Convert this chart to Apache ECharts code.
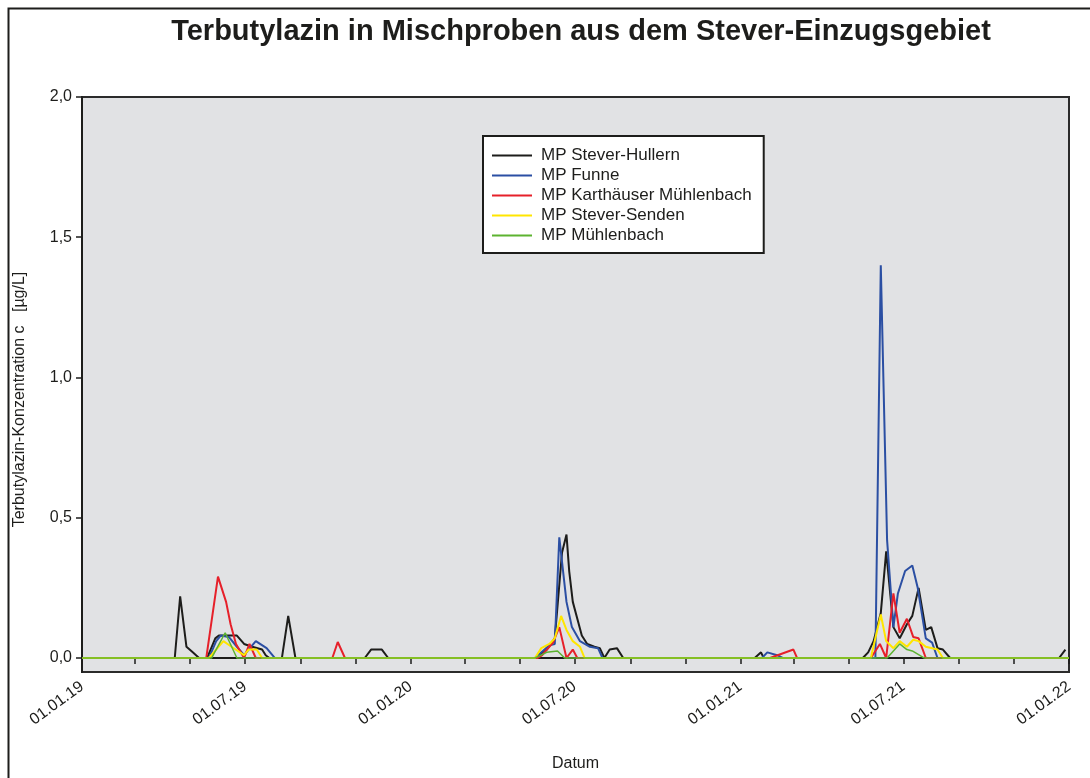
<!DOCTYPE html>
<html>
<head>
<meta charset="utf-8">
<title>Terbutylazin</title>
<script src="https://cdn.jsdelivr.net/npm/echarts@6/dist/echarts.min.js"></script>
<style>
  html, body { margin: 0; padding: 0; background: #fff; }
  #chart { width: 1090px; height: 778px; }
</style>
</head>
<body>
<div id="chart"></div>
<script>
  // tick positions on the date axis
  const labelDates = ['2019-01-01', '2019-07-01', '2020-01-01', '2020-07-01', '2021-01-01', '2021-07-01', '2022-01-01']
  const tickDates = ['2019-01-01', '2019-03-01', '2019-05-01', '2019-07-01', '2019-09-01', '2019-11-01',
    '2020-01-01', '2020-03-01', '2020-05-01', '2020-07-01', '2020-09-01', '2020-11-01',
    '2021-01-01', '2021-03-01', '2021-05-01', '2021-07-01', '2021-09-01', '2021-11-01', '2022-01-01']
  const yTicks = [0, 0.5, 1, 1.5, 2]

  const names = ['MP Stever-Hullern', 'MP Funne', 'MP Karthäuser Mühlenbach', 'MP Stever-Senden', 'MP Mühlenbach']

  // [Datum, c in µg/L]
  const hullern = [
    ['2019-01-01', 0], ['2019-04-14', 0], ['2019-04-20', 0.22], ['2019-04-27', 0.04], ['2019-05-04', 0.02],
    ['2019-05-11', 0], ['2019-05-20', 0], ['2019-05-29', 0.07], ['2019-06-02', 0.08], ['2019-06-22', 0.08],
    ['2019-06-30', 0.05], ['2019-07-09', 0.04], ['2019-07-20', 0.03], ['2019-07-24', 0.01], ['2019-07-28', 0],
    ['2019-08-11', 0], ['2019-08-18', 0.15], ['2019-08-26', 0], ['2019-11-11', 0], ['2019-11-18', 0.03],
    ['2019-11-30', 0.03], ['2019-12-07', 0], ['2020-05-20', 0], ['2020-05-31', 0.03], ['2020-06-09', 0.07],
    ['2020-06-17', 0.375], ['2020-06-22', 0.44], ['2020-06-25', 0.31], ['2020-06-29', 0.2], ['2020-07-09', 0.08],
    ['2020-07-15', 0.05], ['2020-07-23', 0.04], ['2020-07-29', 0.035], ['2020-08-03', 0], ['2020-08-09', 0.03],
    ['2020-08-17', 0.035], ['2020-08-24', 0], ['2021-01-17', 0], ['2021-01-24', 0.02], ['2021-01-27', 0],
    ['2021-05-17', 0], ['2021-05-23', 0.02], ['2021-05-29', 0.06], ['2021-06-06', 0.16], ['2021-06-12', 0.38],
    ['2021-06-20', 0.11], ['2021-06-27', 0.07], ['2021-07-05', 0.12], ['2021-07-11', 0.15], ['2021-07-18', 0.25],
    ['2021-07-26', 0.1], ['2021-08-01', 0.11], ['2021-08-08', 0.035], ['2021-08-14', 0.03], ['2021-08-22', 0],
    ['2021-12-21', 0], ['2021-12-28', 0.03]
  ]
  const funne = [
    ['2019-01-01', 0], ['2019-05-22', 0], ['2019-05-30', 0.06], ['2019-06-04', 0.08], ['2019-06-13', 0.075],
    ['2019-06-22', 0.04], ['2019-06-30', 0.01], ['2019-07-05', 0.03], ['2019-07-13', 0.06], ['2019-07-25', 0.035],
    ['2019-08-03', 0], ['2020-05-18', 0], ['2020-06-03', 0.045], ['2020-06-09', 0.05], ['2020-06-14', 0.43],
    ['2020-06-22', 0.2], ['2020-06-28', 0.11], ['2020-07-07', 0.06], ['2020-07-18', 0.04], ['2020-07-27', 0.035],
    ['2020-08-01', 0], ['2021-01-25', 0], ['2021-01-31', 0.02], ['2021-02-11', 0.01], ['2021-02-17', 0],
    ['2021-05-31', 0], ['2021-06-06', 1.4], ['2021-06-13', 0.42], ['2021-06-20', 0.11], ['2021-06-25', 0.23],
    ['2021-07-03', 0.31], ['2021-07-11', 0.33], ['2021-07-17', 0.25], ['2021-07-26', 0.07], ['2021-08-02', 0.055],
    ['2021-08-08', 0], ['2022-01-01', 0]
  ]
  const karthaeuser = [
    ['2019-01-01', 0], ['2019-05-19', 0], ['2019-06-01', 0.29], ['2019-06-10', 0.2], ['2019-06-15', 0.12],
    ['2019-06-21', 0.05], ['2019-06-30', 0], ['2019-07-06', 0.05], ['2019-07-13', 0], ['2019-10-06', 0],
    ['2019-10-12', 0.057], ['2019-10-20', 0], ['2020-05-21', 0], ['2020-05-26', 0.01], ['2020-06-07', 0.055],
    ['2020-06-14', 0.11], ['2020-06-22', 0], ['2020-06-29', 0.03], ['2020-07-04', 0], ['2021-02-03', 0],
    ['2021-03-01', 0.03], ['2021-03-05', 0], ['2021-05-26', 0], ['2021-06-05', 0.05], ['2021-06-12', 0],
    ['2021-06-20', 0.23], ['2021-06-27', 0.09], ['2021-07-05', 0.14], ['2021-07-12', 0.075], ['2021-07-18', 0.07],
    ['2021-07-26', 0], ['2022-01-01', 0]
  ]
  const senden = [
    ['2019-01-01', 0], ['2019-05-22', 0], ['2019-06-07', 0.06], ['2019-06-16', 0.04], ['2019-06-30', 0.01],
    ['2019-07-05', 0.03], ['2019-07-14', 0.03], ['2019-07-20', 0], ['2020-05-18', 0], ['2020-05-25', 0.035],
    ['2020-06-03', 0.05], ['2020-06-09', 0.07], ['2020-06-16', 0.15], ['2020-06-22', 0.1], ['2020-06-29', 0.06],
    ['2020-07-07', 0.04], ['2020-07-12', 0], ['2021-05-26', 0], ['2021-06-06', 0.155], ['2021-06-12', 0.06],
    ['2021-06-20', 0.035], ['2021-06-27', 0.06], ['2021-07-05', 0.04], ['2021-07-12', 0.065], ['2021-07-18', 0.06],
    ['2021-07-26', 0.04], ['2021-08-08', 0.03], ['2021-08-14', 0], ['2022-01-01', 0]
  ]
  const muehlenbach = [
    ['2019-01-01', 0], ['2019-05-25', 0], ['2019-06-09', 0.09], ['2019-06-22', 0], ['2020-05-18', 0],
    ['2020-05-31', 0.02], ['2020-06-12', 0.025], ['2020-06-20', 0], ['2021-06-13', 0], ['2021-06-27', 0.05],
    ['2021-07-05', 0.03], ['2021-07-11', 0.025], ['2021-07-24', 0], ['2022-01-01', 0]
  ]

  const colors = ['#1d1d1b', '#2b4fa3', '#e6202a', '#ffe600', '#5db330']
  const widths = [2, 2, 2, 2, 1.5]

  const ts = s => new Date(s).getTime()
  const pad = n => (n < 10 ? '0' : '') + n
  const fmtDate = v => {
    let d = new Date(v)
    return pad(d.getUTCDate()) + '.' + pad(d.getUTCMonth() + 1) + '.' + String(d.getUTCFullYear()).slice(2)
  }

  const chart = echarts.init(document.getElementById('chart'))
  const font = 'Liberation Sans, Arial, sans-serif'

  chart.setOption({
    animation: false,
    textStyle: { fontFamily: font },
    title: {
      text: 'Terbutylazin in Mischproben aus dem Stever-Einzugsgebiet',
      left: 576,
      top: 12,
      textAlign: 'center',
      textStyle: { fontSize: 29, fontWeight: 'bold', color: '#1d1d1b', fontFamily: font }
    },
    graphic: [{
      type: 'rect',
      left: 6,
      top: 6,
      shape: { width: 1200, height: 900 },
      style: { fill: 'none', stroke: '#1d1d1b', lineWidth: 2 },
      silent: true
    }],
    legend: {
      orient: 'vertical',
      left: 483,
      top: 136,
      padding: [11, 12, 9, 9],
      icon: 'rect',
      itemWidth: 40,
      itemHeight: 2,
      itemGap: 3,
      backgroundColor: '#fff',
      borderColor: '#1d1d1b',
      borderWidth: 2,
      borderRadius: 0,
      data: names,
      textStyle: { fontSize: 17, color: '#1d1d1b', fontFamily: font, padding: [0, 0, 0, 4] }
    },
    grid: {
      left: 82,
      right: 21,
      top: 97,
      bottom: 106,
      outerBoundsMode: 'none',
      show: true,
      backgroundColor: '#e1e2e4',
      borderColor: '#2b2b2b',
      borderWidth: 2
    },
    xAxis: {
      type: 'value',
      min: ts('2019-01-01'),
      max: ts('2022-01-01'),
      name: 'Datum',
      nameLocation: 'middle',
      nameGap: 84,
      nameTextStyle: { fontSize: 16, color: '#1d1d1b' },
      axisLine: { lineStyle: { color: '#1d1d1b', width: 2 } },
      axisTick: { customValues: tickDates.map(ts), length: 6, lineStyle: { color: '#1d1d1b', width: 1.5 } },
      axisLabel: {
        customValues: labelDates.map(ts),
        formatter: fmtDate,
        rotate: 36,
        margin: 13,
        fontSize: 16,
        color: '#1d1d1b'
      },
      splitLine: { show: false }
    },
    yAxis: {
      type: 'value',
      min: -0.05,
      max: 2,
      name: 'Terbutylazin-Konzentration c   [µg/L]',
      nameLocation: 'middle',
      nameGap: 54,
      nameTextStyle: { fontSize: 16, color: '#1d1d1b', padding: [0, 30, 0, 0] },
      axisLine: { show: true, lineStyle: { color: '#1d1d1b', width: 2 } },
      axisTick: { show: true, customValues: yTicks, length: 6, lineStyle: { color: '#1d1d1b', width: 1.5 } },
      axisLabel: {
        customValues: yTicks,
        formatter: v => v.toFixed(1).replace('.', ','),
        fontSize: 16,
        margin: 10,
        color: '#1d1d1b'
      },
      splitLine: { show: false }
    },
    series: [hullern, funne, karthaeuser, senden, muehlenbach].map((d, i) => ({
      name: names[i],
      type: 'line',
      symbol: 'none',
      color: colors[i],
      lineStyle: { color: colors[i], width: widths[i] },
      data: d.map(p => [ts(p[0]), p[1]])
    }))
  })
</script>
</body>
</html>
